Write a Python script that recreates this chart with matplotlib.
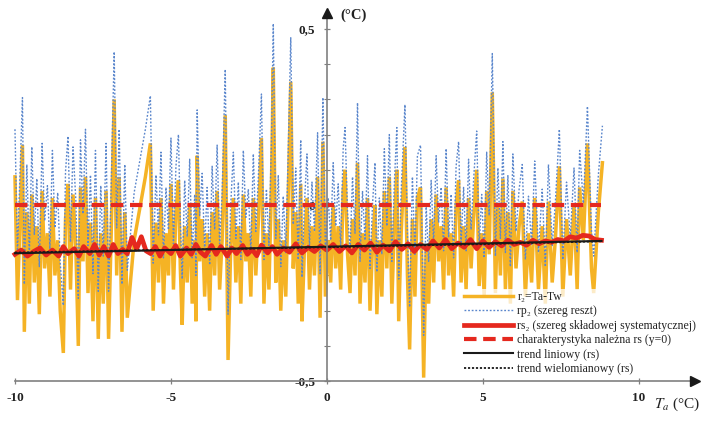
import matplotlib
matplotlib.use("Agg")
import matplotlib.pyplot as plt
from matplotlib.ticker import FixedLocator

plt.rcParams['font.family'] = ['Liberation Serif', 'DejaVu Serif']
plt.rcParams['mathtext.fontset'] = 'stix'

# ---------------- data ----------------
ta = [-10.00, -9.92, -9.84, -9.76, -9.70, -9.62, -9.54, -9.46, -9.38, -9.30,
      -9.22, -9.13, -9.05, -8.96, -8.88, -8.80, -8.72, -8.63, -8.55, -8.45,
      -8.38, -8.30, -8.22, -8.14, -8.05, -7.97, -7.90, -7.82, -7.74, -7.66,
      -7.58, -7.50, -7.42, -7.33, -7.25, -7.17, -7.08, -7.00, -6.92, -6.82,
      -6.74, -6.66, -6.57, -6.48, -6.40, -6.18, -5.82, -5.66, -5.57, -5.48,
      -5.40,
      -5.32, -5.24, -5.16, -5.08, -5.00, -4.92, -4.84, -4.76, -4.70, -4.64,
      -4.56, -4.48, -4.40, -4.32, -4.24, -4.20, -4.16, -4.08, -4.00, -3.92,
      -3.84, -3.76, -3.68, -3.60, -3.52, -3.44, -3.36, -3.26, -3.17, -3.09,
      -3.00,
      -2.92, -2.84, -2.76, -2.68, -2.60, -2.52, -2.44, -2.36, -2.28, -2.20,
      -2.10, -2.02, -1.94, -1.86, -1.78, -1.72, -1.64, -1.56, -1.48, -1.40,
      -1.32, -1.24, -1.16, -1.08, -1.00, -0.92, -0.84, -0.80, -0.72, -0.64,
      -0.56, -0.48, -0.40, -0.30, -0.22, -0.13, -0.05,
      0.04, 0.12, 0.20, 0.28, 0.36, 0.44, 0.52, 0.58, 0.66, 0.74,
      0.82, 0.90, 0.98, 1.06, 1.14, 1.22, 1.30, 1.38, 1.46, 1.54,
      1.60, 1.68, 1.76, 1.84, 1.92, 2.00, 2.08, 2.16, 2.24, 2.30,
      2.38, 2.50, 2.58, 2.65, 2.74, 2.82, 2.90, 3.00, 3.10, 3.18,
      3.26,
      3.34, 3.42, 3.50, 3.58, 3.66, 3.74, 3.82, 3.90, 3.98, 4.06,
      4.14, 4.22, 4.30, 4.38, 4.46, 4.54, 4.62, 4.70, 4.80, 4.88,
      4.96, 5.04, 5.12, 5.20, 5.30,
      5.40, 5.48, 5.56, 5.64, 5.72, 5.80, 5.88, 5.96, 6.06, 6.16,
      6.26, 6.36, 6.46, 6.56, 6.66, 6.78, 6.90, 7.00, 7.10, 7.22,
      7.32, 7.45, 7.56, 7.68, 7.80, 7.92, 8.02, 8.10, 8.22, 8.35,
      8.48, 8.55, 8.70, 8.83]

r2 = [0.08, -0.27, -0.05, 0.17, -0.36, -0.02, -0.28, 0.03, -0.22, -0.06,
      -0.31, 0.04, -0.18, -0.08, -0.26, 0.02, -0.20, -0.10, -0.30, -0.42,
      -0.04, 0.06, -0.24, 0.03, -0.12, -0.40, 0.05, -0.16, 0.08, -0.25,
      -0.05, -0.33, 0.02, -0.38, -0.08, -0.28, 0.04, -0.38, -0.10, 0.30,
      -0.20, 0.08, -0.36, -0.02, -0.32, -0.10, 0.08, 0.175, -0.30, -0.05,
      -0.22,
      0.02, -0.28, -0.08, -0.20, 0.06, -0.24, -0.02, 0.07, -0.18, -0.34,
      -0.06, -0.22, 0.00, -0.28, -0.10, -0.33, 0.14, -0.16, -0.04, -0.26,
      -0.08, -0.30, -0.02, -0.20, 0.04, -0.24, -0.10, 0.255, -0.44, -0.14,
      0.02,
      -0.22, -0.06, -0.28, 0.03, -0.16, -0.08, -0.26, 0.02, -0.20, -0.05,
      0.19, -0.28, -0.08, -0.24, 0.05, 0.39, -0.22, -0.04, -0.30, -0.10,
      -0.26, 0.03, 0.35, -0.18, -0.02, -0.28, 0.06, -0.33, -0.12, 0.02,
      -0.24, -0.06, -0.20, 0.08, -0.32, 0.18, -0.26,
      -0.10, -0.22, 0.00, -0.18, -0.06, -0.24, 0.04, 0.10, -0.14, -0.25,
      -0.04, -0.20, 0.12, -0.28, -0.08, -0.22, 0.02, -0.30, -0.12, 0.00,
      -0.31, -0.10, -0.26, 0.04, -0.18, 0.08, -0.28, -0.06, 0.10, -0.33,
      -0.08, 0.165, -0.20, -0.41, -0.04, -0.26, 0.02, 0.05, -0.49, -0.12,
      -0.28,
      -0.04, -0.22, 0.03, -0.16, -0.06, -0.24, 0.05, -0.20, -0.08, -0.26,
      0.00, 0.07, -0.22, -0.06, -0.24, 0.02, -0.18, -0.04, 0.10, -0.23,
      -0.08, -0.26, 0.04, -0.14, 0.32,
      -0.25, 0.00, -0.20, 0.075, -0.24, -0.02, -0.28, 0.04, -0.18, -0.06,
      0.01, -0.26, -0.08, -0.22, 0.02, -0.24, -0.06, -0.28, 0.01, -0.22,
      -0.10, 0.11, -0.26, -0.04, -0.20, 0.00, -0.24, 0.05, -0.10, 0.175,
      -0.18, -0.25, -0.02, 0.12]

rp2 = [0.215, -0.135, 0.085, 0.305, -0.225, 0.115, -0.145, 0.165, -0.085, 0.075,
       -0.175, 0.175, -0.045, 0.055, -0.125, 0.155, -0.065, 0.035, -0.165, -0.285,
       0.095, 0.195, -0.105, 0.165, 0.015, -0.265, 0.185, -0.025, 0.215, -0.115,
       0.085, -0.195, 0.155, -0.245, 0.055, -0.145, 0.175, -0.245, 0.035, 0.435,
       -0.065, 0.215, -0.225, 0.115, -0.185, 0.035, 0.215, 0.31, -0.165, 0.085,
       -0.085,
       0.15, -0.15, 0.05, -0.07, 0.19, -0.11, 0.11, 0.20, -0.05, -0.21,
       0.07, -0.09, 0.13, -0.15, 0.03, -0.20, 0.27, -0.03, 0.09, -0.13,
       0.05, -0.17, 0.11, -0.07, 0.17, -0.11, 0.03, 0.385, -0.31, -0.01,
       0.15,
       -0.095, 0.065, -0.155, 0.155, -0.035, 0.045, -0.135, 0.145, -0.075, 0.075,
       0.315, -0.155, 0.045, -0.115, 0.175, 0.515, -0.095, 0.085, -0.175, 0.025,
       -0.135, 0.155, 0.475, -0.055, 0.105, -0.155, 0.185, -0.205, 0.005, 0.145,
       -0.115, 0.065, -0.075, 0.205, -0.195, 0.305, -0.135,
       0.02, -0.10, 0.12, -0.06, 0.06, -0.12, 0.16, 0.22, -0.02, -0.13,
       0.08, -0.08, 0.29, -0.16, 0.04, -0.10, 0.14, -0.18, 0.00, 0.12,
       -0.19, 0.02, -0.14, 0.16, -0.06, 0.20, -0.16, 0.06, 0.22, -0.21,
       0.04, 0.285, -0.08, -0.29, 0.08, -0.14, 0.14, 0.17, -0.37, 0.00,
       -0.16,
       0.07, -0.11, 0.14, -0.05, 0.05, -0.13, 0.16, -0.09, 0.03, -0.15,
       0.11, 0.18, -0.11, 0.05, -0.13, 0.13, -0.07, 0.07, 0.21, -0.12,
       0.03, -0.15, 0.15, -0.03, 0.43,
       -0.145, 0.105, -0.095, 0.18, -0.135, 0.085, -0.175, 0.145, -0.075, 0.045,
       0.115, -0.155, 0.025, -0.115, 0.125, -0.135, 0.045, -0.175, 0.115, -0.115,
       0.005, 0.215, -0.155, 0.065, -0.095, 0.105, -0.135, 0.155, 0.005, 0.28,
       -0.075, -0.145, 0.085, 0.225]

rs_x = [-10.0, -9.8, -9.6, -9.4, -9.2, -9.0, -8.8, -8.6, -8.45, -8.3,
        -8.1, -7.95, -7.8, -7.6, -7.45, -7.3, -7.15, -7.0, -6.85, -6.7,
        -6.55, -6.4, -6.25, -6.1, -5.95, -5.8, -5.65, -5.5, -5.35, -5.2,
        -5.0, -4.85, -4.7, -4.5, -4.35, -4.2, -4.05, -3.9, -3.7, -3.55,
        -3.4, -3.2, -3.05, -2.9, -2.7, -2.55, -2.4, -2.25, -2.1, -1.9,
        -1.75, -1.6, -1.4, -1.2, -1.0, -0.8, -0.6, -0.4, -0.2, 0.0,
        0.2, 0.4, 0.6, 0.8, 1.0, 1.2, 1.4, 1.6, 1.8, 2.0,
        2.2, 2.4, 2.6, 2.8, 3.0, 3.2, 3.4, 3.6, 3.8, 4.0,
        4.2, 4.4, 4.6, 4.8, 5.0, 5.2, 5.4, 5.6, 5.8, 6.0,
        6.2, 6.4, 6.6, 6.8, 7.0, 7.2, 7.4, 7.6, 7.8, 8.0,
        8.2, 8.4, 8.6, 8.8]
rs = [-0.140, -0.128, -0.145, -0.132, -0.122, -0.142, -0.128, -0.145, -0.118, -0.138,
      -0.124, -0.145, -0.118, -0.138, -0.112, -0.142, -0.118, -0.145, -0.112, -0.138,
      -0.126, -0.138, -0.092, -0.125, -0.090, -0.130, -0.138, -0.118, -0.145, -0.122,
      -0.138, -0.115, -0.145, -0.122, -0.140, -0.112, -0.134, -0.145, -0.115, -0.140,
      -0.118, -0.145, -0.122, -0.138, -0.115, -0.140, -0.126, -0.144, -0.114, -0.136,
      -0.118, -0.140, -0.122, -0.134, -0.110, -0.136, -0.120, -0.132, -0.116, -0.128,
      -0.112, -0.132, -0.116, -0.136, -0.112, -0.128, -0.108, -0.134, -0.114, -0.130,
      -0.104, -0.126, -0.110, -0.132, -0.112, -0.126, -0.102, -0.122, -0.098, -0.124,
      -0.108, -0.120, -0.098, -0.124, -0.102, -0.120, -0.104, -0.116, -0.100, -0.112,
      -0.106, -0.114, -0.100, -0.110, -0.102, -0.106, -0.098, -0.102, -0.090, -0.094,
      -0.086, -0.088, -0.098, -0.100]

ref_x = [-10.0, 8.8]
ref_y = [0.0, 0.0]

lin_x = [-10.0, 8.8]
lin_y = [-0.137, -0.102]

poly_x = [-10.0, -5.0, 0.0, 5.0, 8.8]
poly_y = [-0.135, -0.127, -0.120, -0.111, -0.103]

labels = ["r\u2082=Ta-Tw", "rp\u2082 (szereg reszt)",
          "rs\u2082 (szereg składowej systematycznej)",
          "charakterystyka należna rs (y=0)",
          "trend liniowy (rs)", "trend wielomianowy (rs)"]

x_ticks = [-10, -5, 0, 5, 10]
x_ticklabels = ["-10", "-5", "0", "5", "10"]
y_ticks = [-0.5, 0, 0.5]
y_ticklabels = ["-0,5", "0", "0,5"]
y_minor_ticks = [-0.4, -0.3, -0.2, -0.1, 0.1, 0.2, 0.3, 0.4]

# ---------------- styles ----------------
C_OR = "#F5B325"
C_BL = "#5A86CC"
C_RD = "#E5281E"
C_BK = "#1a1a1a"
C_AX = "#808080"

fig = plt.figure(figsize=(7.01, 4.22), dpi=100)
ax = fig.add_axes([0, 0, 1, 1])
ax.set_xlim(-10.48, 11.99)
ax.set_ylim(-0.616, 0.582)

l1, = ax.plot(ta, r2, color=C_OR, lw=2.5, zorder=2, solid_joinstyle='miter')
l2, = ax.plot(ta, rp2, color=C_BL, lw=1.0, ls=(0, (1.3, 1.3)), zorder=3)
l4, = ax.plot(ref_x, ref_y, color=C_RD, lw=3.0, ls=(0, (3.0, 1.6)), zorder=4)
l3, = ax.plot(rs_x, rs, color=C_RD, lw=3.4, zorder=5)
l5, = ax.plot(lin_x, lin_y, color=C_BK, lw=1.5, zorder=6)
l6, = ax.plot(poly_x, poly_y, color=C_BK, lw=1.3, ls=(0, (1.2, 1.0)), zorder=7)

# axes in the middle
for s in ['top', 'right']:
    ax.spines[s].set_visible(False)
ax.spines['left'].set_position(('data', 0))
ax.spines['bottom'].set_position(('data', -0.5))
ax.spines['left'].set_bounds(-0.5, 0.54)
ax.spines['bottom'].set_bounds(-10, 11.75)
for s in ['left', 'bottom']:
    ax.spines[s].set_color(C_AX)
    ax.spines[s].set_linewidth(1.2)
    ax.spines[s].set_zorder(11)
ax.plot([0], [0.545], marker='^', color=C_BK, ms=7, clip_on=False, zorder=12)
ax.plot([11.8], [-0.5], marker='>', color=C_BK, ms=7, clip_on=False, zorder=12)

ax.xaxis.set_major_locator(FixedLocator(x_ticks))
ax.set_xticklabels(x_ticklabels)
ax.yaxis.set_major_locator(FixedLocator(y_ticks))
ax.set_yticklabels(y_ticklabels)
ax.yaxis.set_minor_locator(FixedLocator(y_minor_ticks))
ax.tick_params(axis='both', which='major', direction='inout', length=5,
               width=0.9, color=C_AX, labelsize=9.5)
ax.tick_params(axis='y', which='minor', direction='inout', length=4,
               width=0.8, color=C_AX)
ax.tick_params(axis='x', pad=5)
ax.tick_params(axis='y', pad=6)
for t in ax.get_xticklabels() + ax.get_yticklabels():
    t.set_fontweight('bold')
    t.set_color('#222222')

ax.text(0.42, 0.54, "(°C)", fontsize=10.5, fontweight='bold', color='#222222',
        ha='left', va='center')
ax.text(11.97, -0.565, r"$T_a$ (°C)", fontsize=11, color='#222222',
        ha='right', va='center')

leg = ax.legend([l1, l2, l3, l4, l5, l6], labels, loc='lower right',
                bbox_to_anchor=(1.005, 0.092), fontsize=8.5, frameon=True,
                facecolor='white', framealpha=0.75, edgecolor='none',
                fancybox=False, handlelength=4.1, handletextpad=0.4,
                labelspacing=0.2, borderpad=0.2)
leg.set_zorder(10)
for t in leg.get_texts():
    t.set_color('#222222')

fig.savefig("out.png", dpi=100)
